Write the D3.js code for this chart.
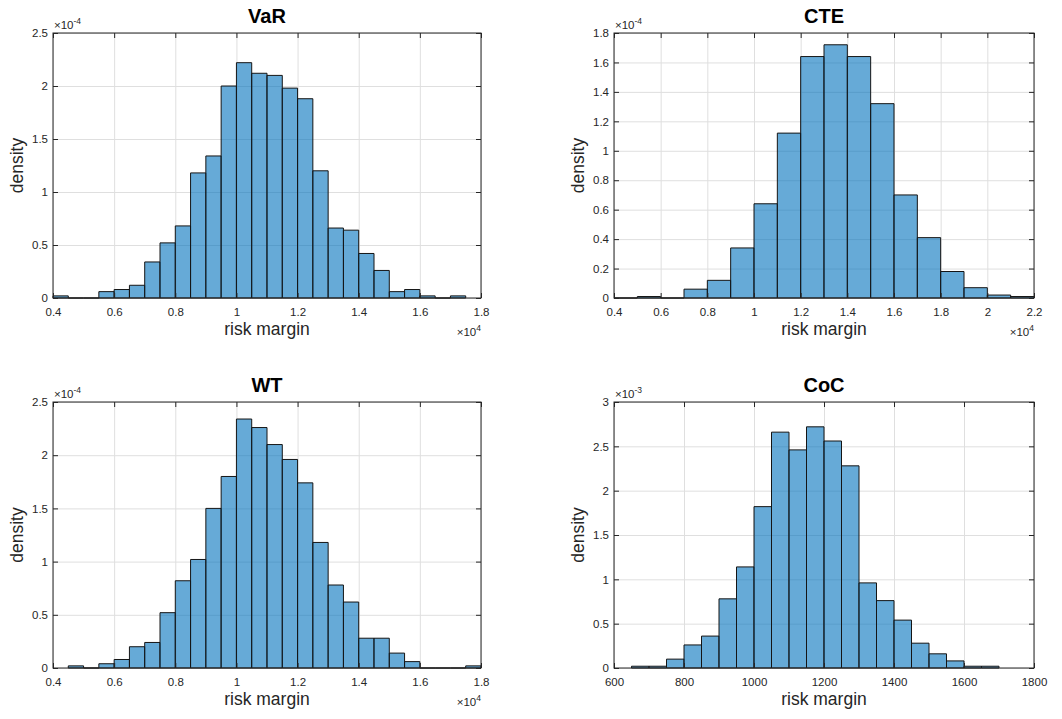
<!DOCTYPE html>
<html>
<head>
<meta charset="utf-8">
<script src="https://cdn.jsdelivr.net/npm/d3@7"></script>
<style>
  body { margin: 0; background: #fff; }
  text { font-family: "Liberation Sans", Arial, Helvetica, sans-serif; fill: #262626; }
</style>
</head>
<body>
<div id="chart"></div>
<script>
// histogram data, densities in units of the axis exponent
const varBinStart = 4000, varBinWidth = 500;
const varDensity = [0.02, 0, 0, 0.06, 0.08, 0.12, 0.34, 0.52, 0.68, 1.18, 1.34, 2.00, 2.22, 2.12,
  2.10, 1.98, 1.88, 1.20, 0.66, 0.64, 0.42, 0.26, 0.06, 0.08, 0.02, 0, 0.02];
const varXTicks = [4000, 6000, 8000, 10000, 12000, 14000, 16000, 18000];
const varYTicks = [0, 0.5, 1, 1.5, 2, 2.5];

const cteBinStart = 4000, cteBinWidth = 1000;
const cteDensity = [0, 0.01, 0, 0.06, 0.12, 0.34, 0.64, 1.12, 1.64, 1.72, 1.64, 1.32, 0.70, 0.41,
  0.18, 0.07, 0.02, 0.01];
const cteXTicks = [4000, 6000, 8000, 10000, 12000, 14000, 16000, 18000, 20000, 22000];
const cteYTicks = [0, 0.2, 0.4, 0.6, 0.8, 1, 1.2, 1.4, 1.6, 1.8];

const wtBinStart = 4500, wtBinWidth = 500;
const wtDensity = [0.02, 0, 0.04, 0.08, 0.20, 0.24, 0.52, 0.82, 1.02, 1.50, 1.80, 2.34, 2.26, 2.10,
  1.96, 1.74, 1.18, 0.78, 0.62, 0.28, 0.28, 0.14, 0.06, 0, 0, 0, 0.02];
const wtXTicks = [4000, 6000, 8000, 10000, 12000, 14000, 16000, 18000];
const wtYTicks = [0, 0.5, 1, 1.5, 2, 2.5];

const cocBinStart = 650, cocBinWidth = 50;
const cocDensity = [0.02, 0.02, 0.10, 0.26, 0.36, 0.78, 1.14, 1.82, 2.66, 2.46, 2.72, 2.56, 2.28,
  0.96, 0.76, 0.54, 0.28, 0.16, 0.08, 0.02, 0.02];
const cocXTicks = [600, 800, 1000, 1200, 1400, 1600, 1800];
const cocYTicks = [0, 0.5, 1, 1.5, 2, 2.5, 3];

const W = 1062, H = 719;

const svg = d3.select("#chart").append("svg")
  .attr("width", W)
  .attr("height", H);

const fmt = d3.format(".6~g");

function histPanel(opt) {
  const g = svg.append("g").attr("transform", "translate(" + opt.left + "," + opt.top + ")");
  const w = opt.width, h = opt.height;
  const xs = Math.pow(10, opt.xExp);   // x tick labels divided by this

  const x = d3.scaleLinear()
    .domain([opt.xTicks[0], opt.xTicks[opt.xTicks.length - 1]])
    .range([0, w]);
  const y = d3.scaleLinear()
    .domain([opt.yTicks[0], opt.yTicks[opt.yTicks.length - 1]])
    .range([h, 0]);

  // grid
  g.append("g")
    .attr("class", "grid")
    .attr("transform", "translate(0," + h + ")")
    .call(d3.axisBottom(x).tickValues(opt.xTicks).tickSize(-h).tickFormat(""))
    .call(s => s.select(".domain").remove());
  g.append("g")
    .attr("class", "grid")
    .call(d3.axisLeft(y).tickValues(opt.yTicks).tickSize(-w).tickFormat(""))
    .call(s => s.select(".domain").remove());
  g.selectAll(".grid line").attr("stroke", "#dfdfdf").attr("stroke-width", 1);

  // bars
  const bins = opt.density.map((d, i) => ({
    x0: opt.binStart + i * opt.binWidth,
    x1: opt.binStart + (i + 1) * opt.binWidth,
    v: d
  }));
  g.selectAll(".bar")
    .data(bins)
    .enter().append("path")
    .attr("class", "bar")
    .attr("d", d => "M" + x(d.x0) + "," + y(0) + "V" + y(d.v) + "H" + x(d.x1) + "V" + y(0) + "Z")
    .attr("fill", "#0072bd")
    .attr("fill-opacity", 0.6)
    .attr("stroke", "#151515")
    .attr("stroke-width", 1);

  // ticks on all four sides, pointing in
  g.append("g")
    .attr("class", "axis")
    .attr("transform", "translate(0," + h + ")")
    .call(d3.axisBottom(x).tickValues(opt.xTicks).tickSizeInner(-5).tickSizeOuter(0)
      .tickPadding(10).tickFormat(d => fmt(d / xs)));
  g.append("g")
    .attr("class", "axis")
    .call(d3.axisTop(x).tickValues(opt.xTicks).tickSizeInner(-5).tickSizeOuter(0).tickFormat(""));
  g.append("g")
    .attr("class", "axis")
    .call(d3.axisLeft(y).tickValues(opt.yTicks).tickSizeInner(-5).tickSizeOuter(0)
      .tickPadding(5).tickFormat(fmt));
  g.append("g")
    .attr("class", "axis")
    .attr("transform", "translate(" + w + ",0)")
    .call(d3.axisRight(y).tickValues(opt.yTicks).tickSizeInner(-5).tickSizeOuter(0).tickFormat(""));
  g.selectAll(".axis .domain").remove();
  g.selectAll(".axis line").attr("stroke", "#262626");
  g.selectAll(".axis text")
    .attr("font-size", 11.5)
    .attr("font-family", null)
    .attr("fill", "#262626");

  // box
  g.append("rect")
    .attr("width", w)
    .attr("height", h)
    .attr("fill", "none")
    .attr("stroke", "#262626")
    .attr("stroke-width", 1);

  // title and labels
  g.append("text")
    .attr("x", w / 2)
    .attr("y", -10)
    .attr("text-anchor", "middle")
    .attr("font-size", 20)
    .attr("font-weight", "bold")
    .style("fill", "#000")
    .text(opt.title);

  g.append("text")
    .attr("x", w / 2)
    .attr("y", h + 37)
    .attr("text-anchor", "middle")
    .attr("font-size", 17.5)
    .text("risk margin");

  g.append("text")
    .attr("transform", "translate(-30," + (h / 2) + ") rotate(-90)")
    .attr("text-anchor", "middle")
    .attr("font-size", 17.5)
    .text("density");

  // exponent labels
  const yExp = g.append("text")
    .attr("x", 1)
    .attr("y", -4)
    .attr("font-size", 11.5);
  yExp.append("tspan").text("\u00d710");
  yExp.append("tspan").attr("dy", -5).attr("font-size", 8.5).text(opt.yExp);

  if (opt.xExp !== 0) {
    const xExp = g.append("text")
      .attr("x", w)
      .attr("y", h + 38)
      .attr("text-anchor", "end")
      .attr("font-size", 11.5);
    xExp.append("tspan").text("\u00d710");
    xExp.append("tspan").attr("dy", -5).attr("font-size", 8.5).text(opt.xExp);
  }
}

histPanel({ title: "VaR", binStart: varBinStart, binWidth: varBinWidth, density: varDensity,
  xTicks: varXTicks, yTicks: varYTicks, xExp: 4, yExp: -4,
  left: 53, top: 33, width: 428, height: 265 });

histPanel({ title: "CTE", binStart: cteBinStart, binWidth: cteBinWidth, density: cteDensity,
  xTicks: cteXTicks, yTicks: cteYTicks, xExp: 4, yExp: -4,
  left: 614, top: 33, width: 420, height: 265 });

histPanel({ title: "WT", binStart: wtBinStart, binWidth: wtBinWidth, density: wtDensity,
  xTicks: wtXTicks, yTicks: wtYTicks, xExp: 4, yExp: -4,
  left: 53, top: 402, width: 428, height: 266 });

histPanel({ title: "CoC", binStart: cocBinStart, binWidth: cocBinWidth, density: cocDensity,
  xTicks: cocXTicks, yTicks: cocYTicks, xExp: 0, yExp: -3,
  left: 614, top: 402, width: 420, height: 266 });
</script>
</body>
</html>
